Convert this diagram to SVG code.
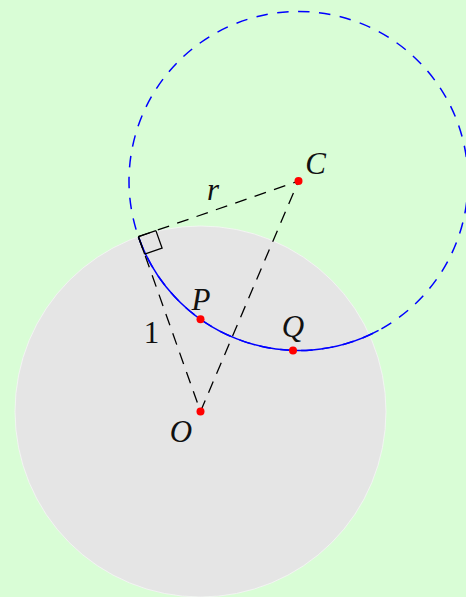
<svg xmlns="http://www.w3.org/2000/svg" width="466" height="597" viewBox="0 0 466 597">
<style>
.lbl{font-family:"Liberation Serif","DejaVu Serif",serif;font-style:italic;font-size:31px;fill:#111;text-anchor:middle}
.num{font-style:normal}
.blk{fill:none;stroke:#000;stroke-width:1.3;stroke-dasharray:12 8.5}
.blue{fill:none;stroke:#0000ff;stroke-width:1.5}
.dot{fill:#ff0000}
</style>
<rect x="0" y="0" width="466" height="597" fill="#d9fdd6"/>
<g id="disk">
<circle cx="200.5" cy="411.5" r="185.5" fill="#e5e5e5" stroke="#f6f6f6" stroke-width="0.8"/>
</g>
<g id="circleC">
<circle class="blue" cx="298.5" cy="181" r="169.5" stroke-dasharray="11.5 9.5"/>
<path class="blue" d="M138.42,236.7 A169.5,169.5 0 0 0 378.58,330.39"/>
</g>
<g id="connectors">
<line class="blk" x1="138.42" y1="236.7" x2="298.5" y2="181"/>
<line class="blk" x1="138.42" y1="236.7" x2="200.5" y2="411.5"/>
<line class="blk" x1="200.5" y1="411.5" x2="298.5" y2="181"/>
<polyline points="155.89,230.62 162.08,248.05 144.61,254.13" fill="none" stroke="#000" stroke-width="1.3"/>
<line x1="138.42" y1="236.7" x2="155.89" y2="230.62" stroke="#000" stroke-width="1.3"/>
<line x1="138.42" y1="236.7" x2="144.61" y2="254.13" stroke="#000" stroke-width="1.3"/>
</g>
<g id="C"><circle class="dot" cx="298.5" cy="181" r="4"/><text class="lbl" x="315.5" y="174">C</text></g>
<g id="O"><circle class="dot" cx="200.5" cy="411.5" r="4"/><text class="lbl" x="181" y="441.5">O</text></g>
<g id="P"><circle class="dot" cx="200.5" cy="319.3" r="4"/><text class="lbl" x="201" y="310">P</text></g>
<g id="Q"><circle class="dot" cx="293" cy="350.4" r="4"/><text class="lbl" x="293" y="337">Q</text></g>
<g id="labels">
<text class="lbl" x="213" y="200">r</text>
<text class="lbl num" x="151.5" y="343.3">1</text>
</g>
</svg>
